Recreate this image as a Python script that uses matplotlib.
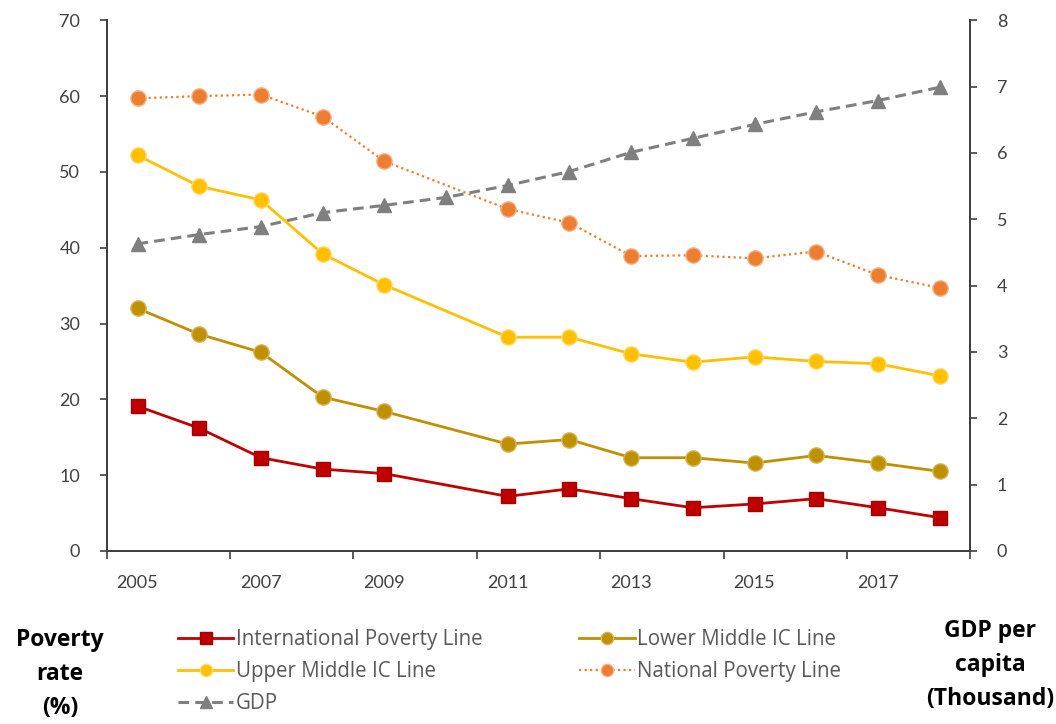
import numpy as np
import matplotlib
matplotlib.use("Agg")
import matplotlib.pyplot as plt

plt.rcParams['font.family'] = ['Lato', 'DejaVu Sans']

years = [2005, 2006, 2007, 2008, 2009, 2010, 2011, 2012, 2013, 2014, 2015, 2016, 2017, 2018]
# 2010 has no poverty survey (nan); the lines are joined across it
intl = [19.1, 16.2, 12.3, 10.8, 10.2, np.nan, 7.2, 8.2, 6.9, 5.7, 6.2, 6.9, 5.7, 4.4]
lower_mid = [32.0, 28.6, 26.2, 20.3, 18.4, np.nan, 14.1, 14.7, 12.3, 12.3, 11.6, 12.6, 11.6, 10.5]
upper_mid = [52.2, 48.1, 46.3, 39.2, 35.1, np.nan, 28.2, 28.2, 26.0, 24.9, 25.6, 25.0, 24.7, 23.1]
national = [59.7, 60.0, 60.2, 57.3, 51.4, np.nan, 45.1, 43.3, 38.9, 39.0, 38.6, 39.5, 36.4, 34.7]
gdp = [4.63, 4.77, 4.89, 5.10, 5.21, 5.33, 5.51, 5.72, 6.01, 6.22, 6.43, 6.62, 6.79, 6.99]

x = np.arange(len(years))

fig = plt.figure(figsize=(10.56, 7.24), dpi=100)
ax = fig.add_axes([0.101, 0.239, 0.818, 0.733])
ax2 = ax.twinx()

def draw(a, vals, **kw):
    v = np.array(vals, dtype=float)
    ok = ~np.isnan(v)
    return a.plot(x[ok], v[ok], **kw)[0]

h_gdp = draw(ax2, gdp, color='#7F7F7F', lw=2.2, ls=(0, (3.5, 2)), marker='^', ms=10,
             label='GDP', zorder=2)
h_nat = draw(ax, national, color='#ED7D31', lw=1.6, ls=(0, (1, 1.5)), marker='o', ms=11,
             mec='#F4B183', label='National Poverty Line', zorder=3)
h_up = draw(ax, upper_mid, color='#FFC000', lw=2, marker='o', ms=11, mec='#FFD966',
            label='Upper Middle IC Line', zorder=3)
h_low = draw(ax, lower_mid, color='#BF9000', lw=2, marker='o', ms=11, mec='#D6B656',
             label='Lower Middle IC Line', zorder=3)
h_int = draw(ax, intl, color='#C00000', lw=2, marker='s', ms=10, mec='#A00000',
             label='International Poverty Line', zorder=3)

ax.set_zorder(ax2.get_zorder() + 1)
ax.patch.set_visible(False)

ax.set_xlim(-0.5, len(years) - 0.5)
ax.set_ylim(0, 70)
ax2.set_ylim(0, 8)
ax.set_yticks(range(0, 71, 10))
ax2.set_yticks(range(0, 9))
ax.set_xticks(x[::2])
ax.set_xticklabels([str(y) for y in years[::2]])
ax.set_xticks(np.arange(-0.5, len(years), 2), minor=True)
ax.tick_params(axis='x', which='major', length=0, pad=17, labelsize=13, labelcolor='#404040')
ax.tick_params(axis='x', which='minor', length=6, width=1.2, direction='out', color='#404040')
ax.tick_params(axis='y', length=5, width=1.2, labelsize=13, labelcolor='#404040', pad=14, color='#404040')
ax2.tick_params(axis='y', length=5, width=1.2, labelsize=13, labelcolor='#404040', pad=14, color='#404040')

for a in (ax, ax2):
    a.spines['top'].set_visible(False)
    for s in ('left', 'right', 'bottom'):
        a.spines[s].set_color('#404040')
        a.spines[s].set_linewidth(1.3)

handles = [h_int, h_up, h_gdp, h_low, h_nat]
fig.legend(handles=handles, labels=[h.get_label() for h in handles], ncol=2,
           loc='upper left', bbox_to_anchor=(0.151, 0.157), frameon=False,
           prop={'family': 'Open Sans', 'size': 14.8}, labelcolor='#595959',
           handlelength=2.7, handletextpad=0.12, columnspacing=4.7,
           labelspacing=0.55, markerscale=0.8)

fig.text(0.057, 0.069, 'Poverty\nrate\n(%)', ha='center', va='center', fontsize=16.5,
         fontweight='bold', family='Open Sans', linespacing=1.55)
fig.text(0.9375, 0.081, 'GDP per\ncapita\n(Thousand)', ha='center', va='center', fontsize=16.5,
         fontweight='bold', family='Open Sans', linespacing=1.55)

fig.savefig('out.png', dpi=100)
